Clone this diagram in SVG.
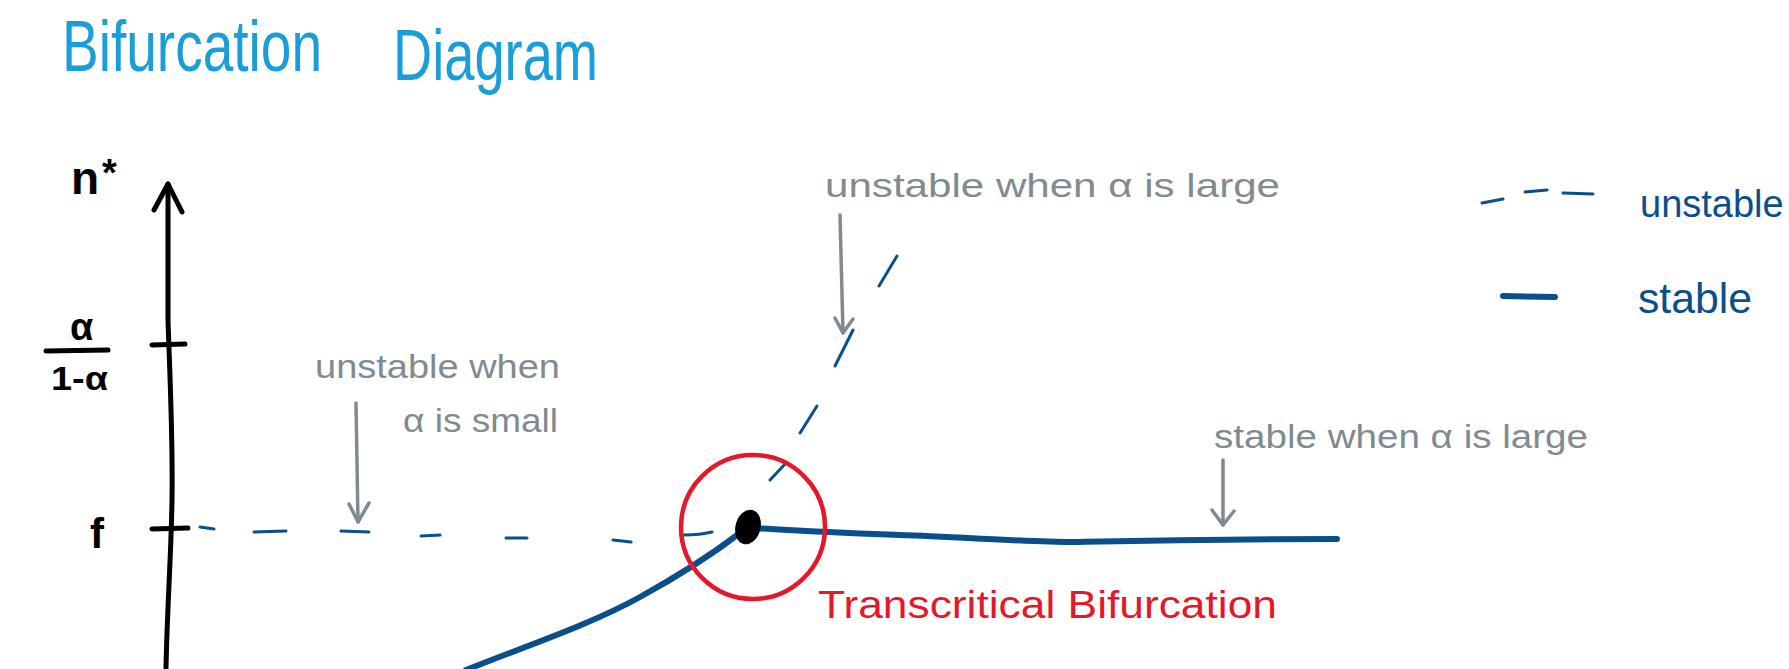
<svg xmlns="http://www.w3.org/2000/svg" width="1789" height="669" viewBox="0 0 1789 669">
<style>
  text { font-family: "Liberation Sans", "DejaVu Sans", sans-serif; }
  .title { fill: #1a9ed9; font-size: 72px; }
  .black { fill: #000; font-weight: bold; }
  .note { fill: #7f8b90; font-size: 34px; }
  .red { fill: #e5172b; font-size: 38px; }
  .leg { fill: #0b4f8a; font-size: 42px; }
  .axis { stroke: #000; stroke-width: 5; fill: none; stroke-linecap: round; stroke-linejoin: round; }
  .stable { stroke: #0b4f8a; stroke-width: 6; fill: none; stroke-linecap: round; }
  .dash { stroke: #0b4f8a; stroke-width: 3; fill: none; stroke-linecap: round; }
  .ptr { stroke: #7f8b90; stroke-width: 3.5; fill: none; stroke-linecap: round; stroke-linejoin: round; }
</style>
<rect width="1789" height="669" fill="#fff"/>
<g id="title">
  <text class="title" x="62" y="71" textLength="260" lengthAdjust="spacingAndGlyphs">Bifurcation</text>
  <text class="title" x="393" y="80" textLength="205" lengthAdjust="spacingAndGlyphs">Diagram</text>
</g>
<g id="axis">
  <path class="axis" d="M166,669 C167,610 171,560 172,500 C173,440 170,380 168,320 L168,184"/>
  <polyline class="axis" points="154,210 168,184 182,212"/>
  <line class="axis" x1="152" y1="345" x2="185" y2="344"/>
  <line class="axis" x1="152" y1="529" x2="188" y2="528"/>
  <text class="black" x="71" y="194" font-size="46">n</text>
  <text class="black" x="102" y="186" font-size="38">*</text>
  <text class="black" x="70" y="340" font-size="38">α</text>
  <line class="axis" x1="46" y1="351" x2="108" y2="350" stroke-width="4"/>
  <text class="black" x="51" y="390" font-size="34" textLength="57" lengthAdjust="spacingAndGlyphs">1-α</text>
  <text class="black" x="90" y="548" font-size="42">f</text>
</g>
<g id="connectors">
  <path class="stable" d="M466,670 C520,648 590,625 640,597 C680,575 715,552 740,533"/>
  <path class="stable" d="M752,528 C790,530 840,533 900,535 C960,537 1030,542 1072,542 C1120,541 1200,539 1337,539"/>
  <line class="dash" x1="200" y1="527" x2="214" y2="529"/>
  <line class="dash" x1="254" y1="532" x2="286" y2="531"/>
  <line class="dash" x1="341" y1="531" x2="369" y2="532"/>
  <line class="dash" x1="421" y1="536" x2="440" y2="535"/>
  <line class="dash" x1="506" y1="538" x2="527" y2="538"/>
  <line class="dash" x1="613" y1="540" x2="631" y2="542"/>
  <path class="dash" d="M684,535 Q700,535 712,532"/>
  <line class="dash" x1="770" y1="480" x2="786" y2="463"/>
  <line class="dash" x1="800" y1="433" x2="817" y2="406"/>
  <line class="dash" x1="835" y1="366" x2="853" y2="330"/>
  <line class="dash" x1="879" y1="286" x2="897" y2="256"/>
</g>
<g id="bifurcation-point">
  <ellipse cx="748" cy="527" rx="12.5" ry="17.5" transform="rotate(15 748 527)" fill="#000"/>
  <ellipse cx="753" cy="527" rx="72" ry="72" fill="none" stroke="#e5172b" stroke-width="4.5"/>
  <text class="red" x="818" y="618" textLength="459" lengthAdjust="spacingAndGlyphs">Transcritical  Bifurcation</text>
</g>
<g id="note-small">
  <text class="note" x="315" y="378" textLength="245" lengthAdjust="spacingAndGlyphs">unstable  when</text>
  <text class="note" x="403" y="432" textLength="155" lengthAdjust="spacingAndGlyphs">α is small</text>
  <line class="ptr" x1="356" y1="403" x2="358" y2="522"/>
  <polyline class="ptr" points="349,504 358,522 369,503"/>
</g>
<g id="note-large-unstable">
  <text class="note" x="825" y="197" textLength="455" lengthAdjust="spacingAndGlyphs">unstable when  α  is  large</text>
  <line class="ptr" x1="840" y1="215" x2="843" y2="333"/>
  <polyline class="ptr" points="835,318 843,333 853,319"/>
</g>
<g id="note-large-stable">
  <text class="note" x="1214" y="448" textLength="374" lengthAdjust="spacingAndGlyphs">stable when α  is large</text>
  <line class="ptr" x1="1223" y1="460" x2="1223" y2="525"/>
  <polyline class="ptr" points="1212,510 1223,525 1234,511"/>
</g>
<g id="legend">
  <line class="dash" x1="1482" y1="203" x2="1503" y2="199" stroke-width="4"/>
  <line class="dash" x1="1525" y1="192" x2="1547" y2="190" stroke-width="4"/>
  <line class="dash" x1="1563" y1="193" x2="1593" y2="194" stroke-width="4"/>
  <text class="leg" x="1640" y="217" font-size="38" style="font-size:38px">unstable</text>
  <line class="stable" x1="1503" y1="296" x2="1555" y2="297"/>
  <text class="leg" x="1638" y="313" textLength="114" lengthAdjust="spacingAndGlyphs">stable</text>
</g>
</svg>
